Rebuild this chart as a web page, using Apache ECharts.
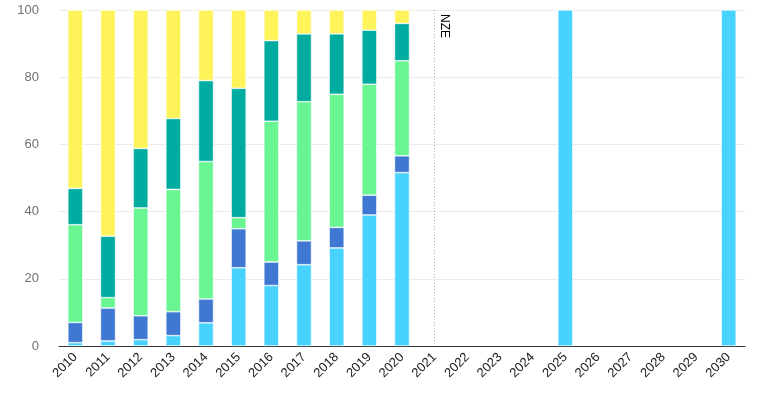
<!DOCTYPE html>
<html>
<head>
<meta charset="utf-8">
<script src="https://cdn.jsdelivr.net/npm/echarts@6/dist/echarts.min.js"></script>
<style>html,body{margin:0;padding:0;background:#fff}#c{width:770px;height:400px}</style>
</head>
<body>
<div id="c"></div>
<script>
var years = ['2010','2011','2012','2013','2014','2015','2016','2017','2018','2019','2020','2021','2022','2023','2024','2025','2026','2027','2028','2029','2030'];
var s1 = [1.0, 1.5, 1.9, 3.1, 6.9, 23.3, 18.0, 24.2, 29.2, 39.0, 51.6, null, null, null, null, 100, null, null, null, null, 100];
var s2 = [6.0, 9.8, 7.1, 7.1, 7.1, 11.6, 7.0, 7.1, 6.1, 5.9, 5.0, null, null, null, null, null, null, null, null, null, null];
var s3 = [29.1, 3.1, 32.1, 36.4, 40.9, 3.3, 41.9, 41.4, 39.6, 33.0, 28.3, null, null, null, null, null, null, null, null, null, null];
var s4 = [10.8, 18.3, 17.7, 21.1, 24.1, 38.5, 24.0, 20.2, 18.0, 16.1, 11.1, null, null, null, null, null, null, null, null, null, null];
var s5 = [53.1, 67.3, 41.2, 32.3, 21.0, 23.3, 9.1, 7.1, 7.1, 6.0, 4.0, null, null, null, null, null, null, null, null, null, null];
var names = ['Series 1','Series 2','Series 3','Series 4','Series 5'];
var colors = ['#48d3ff','#3e78d3','#6af593','#00ab9f','#fff35a'];
var markYear = '2021';
var markLabel = 'NZE';
var yTicks = {min: 0, max: 100, interval: 20};

var data = [s1, s2, s3, s4, s5];
var series = data.map(function (d, i) {
  var s = {
    name: names[i], type: 'bar', stack: 'total', data: d,
    barWidth: 15,
    itemStyle: {color: colors[i], borderColor: '#ffffff', borderWidth: 0.6},
    emphasis: {disabled: true}
  };
  if (i === 0) {
    s.markLine = {
      silent: true, symbol: 'none',
      lineStyle: {color: '#b0b0b0', type: [1, 2], width: 1},
      label: {show: true, formatter: markLabel, position: 'insideStartTop', color: '#000', fontSize: 12, fontFamily: 'Liberation Sans, Arial, sans-serif', distance: 4},
      data: [[{xAxis: markYear, yAxis: yTicks.max}, {xAxis: markYear, yAxis: yTicks.min}]]
    };
  }
  return s;
});

var chart = echarts.init(document.getElementById('c'), null, {renderer: 'canvas'});
chart.setOption({
  animation: false,
  backgroundColor: '#fff',
  grid: {left: 59, right: 25, top: 10, bottom: 54, containLabel: false},
  xAxis: {
    type: 'category', data: years,
    axisLine: {lineStyle: {color: '#333', width: 1}},
    axisTick: {length: 7, lineStyle: {color: '#333'}},
    axisLabel: {rotate: 45, color: '#222', fontSize: 13, fontFamily: 'Liberation Sans, Arial, sans-serif', margin: 9, interval: 0}
  },
  yAxis: {
    type: 'value', min: yTicks.min, max: yTicks.max, interval: yTicks.interval,
    axisLine: {show: false}, axisTick: {show: false},
    splitLine: {lineStyle: {color: '#ebebeb'}},
    axisLabel: {color: '#707070', fontSize: 13, fontFamily: 'Liberation Sans, Arial, sans-serif', margin: 20}
  },
  series: series
});
</script>
</body>
</html>
